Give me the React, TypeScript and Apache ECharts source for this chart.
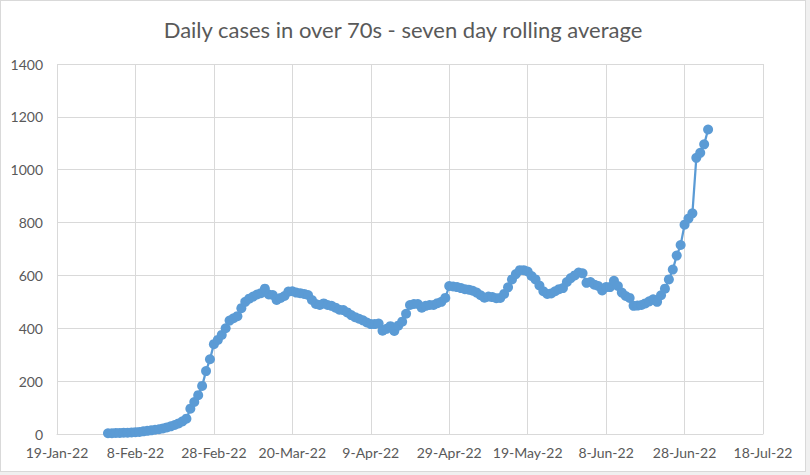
import React, { useEffect, useRef } from "react";
import * as echarts from "echarts";

const AXIS_START = "2022-01-19";
const AXIS_END = "2022-07-18";
const SERIES_START = "2022-02-01";
const TICK_DAYS = 20;
const Y_TICKS = [0, 200, 400, 600, 800, 1000, 1200, 1400];
const MONTHS = ["Jan", "Feb", "Mar", "Apr", "May", "Jun", "Jul", "Aug", "Sep", "Oct", "Nov", "Dec"];

// seven day rolling average, one value per day from 1-Feb-22
const dailyValues = [
  3, 3, 4, 4, 5, 5, 6, 7, 8, 10, 12, 14, 16, 18, 21, 25, 29, 34, 40, 48,
  58, 96, 121, 147, 182, 238, 283, 340, 356, 375, 400, 429, 438, 446, 476, 500,
  512, 520, 528, 533, 550, 528, 526, 507, 515, 522, 539, 540, 535, 533, 530, 526,
  507, 492, 488, 494, 488, 485, 478, 470, 469, 460, 450, 442, 436, 430, 422, 416,
  416, 418, 391, 398, 408, 390, 410, 425, 455, 488, 492, 492, 478, 485, 488, 488,
  495, 500, 515, 560, 558, 556, 552, 548, 546, 542, 535, 525, 516, 520, 518, 514,
  515, 530, 555, 585, 605, 620, 620, 615, 598, 585, 562, 540, 530, 532, 540, 548,
  552, 575, 590, 600, 611, 608, 572, 575, 565, 560, 543, 556, 556, 580, 560, 535,
  522, 515, 485, 486, 488, 494, 502, 510, 500, 525, 550, 585, 622, 675, 715, 792,
  815, 835, 1045, 1064, 1096, 1152,
];

const DAY = 86400000;
const toMs = (s: string) => {
  const [y, m, d] = s.split("-").map(Number);
  return Date.UTC(y, m - 1, d);
};
const axisStartMs = toMs(AXIS_START);
const axisEndDays = Math.round((toMs(AXIS_END) - axisStartMs) / DAY);
const seriesOffset = Math.round((toMs(SERIES_START) - axisStartMs) / DAY);

const fmtDate = (offset: number) => {
  const dt = new Date(axisStartMs + offset * DAY);
  const yy = String(dt.getUTCFullYear() % 100).padStart(2, "0");
  return `${dt.getUTCDate()}-${MONTHS[dt.getUTCMonth()]}-${yy}`;
};

const FONT = "Lato, 'Liberation Sans', sans-serif";

export default function App() {
  const ref = useRef<HTMLDivElement>(null);
  useEffect(() => {
    document.body.style.margin = "0";
    if (!ref.current) return;
    const chart = echarts.init(ref.current, undefined, { renderer: "svg" });
    const data = dailyValues.map((v, i) => [seriesOffset + i, v]);
    chart.setOption({
      animation: false,
      backgroundColor: "#ffffff",
      textStyle: { fontFamily: FONT },
      title: {
        text: "Daily cases in over 70s - seven day rolling average",
        left: "center",
        top: 12,
        textStyle: { fontFamily: FONT, fontSize: 22, fontWeight: "normal", color: "#595959" },
      },
      grid: { left: 56, right: 42, top: 63, bottom: 37, containLabel: false },
      xAxis: {
        type: "value",
        min: 0,
        max: axisEndDays,
        interval: TICK_DAYS,
        axisLine: { show: true, lineStyle: { color: "#D9D9D9", width: 1 } },
        axisTick: { show: false },
        splitLine: { show: true, showMinLine: true, showMaxLine: true, lineStyle: { color: "#D9D9D9", width: 1 } },
        axisLabel: {
          formatter: (v: number) => fmtDate(v),
          fontFamily: FONT,
          fontSize: 14,
          color: "#595959",
          margin: 11,
          showMinLabel: true,
          showMaxLabel: true,
        },
      },
      yAxis: {
        type: "value",
        min: Y_TICKS[0],
        max: Y_TICKS[Y_TICKS.length - 1],
        interval: Y_TICKS[1] - Y_TICKS[0],
        axisLine: { show: false },
        axisTick: { show: false },
        splitLine: { show: true, lineStyle: { color: "#D9D9D9", width: 1 } },
        axisLabel: {
          formatter: (v: number) => String(v),
          fontFamily: FONT,
          fontSize: 14,
          color: "#595959",
          margin: 14,
        },
      },
      series: [
        {
          type: "line",
          data,
          symbol: "circle",
          symbolSize: 10,
          showSymbol: true,
          lineStyle: { color: "#5B9BD5", width: 2.25 },
          itemStyle: { color: "#5B9BD5" },
        },
      ],
    });
    return () => chart.dispose();
  }, []);
  return (
    <div style={{ position: "absolute", left: 0, top: 0, width: 810, height: 475, background: "#F0F0F0" }}>
      <div
        ref={ref}
        style={{
          width: 806,
          height: 472,
          border: "1px solid #D9D9D9",
          boxSizing: "border-box",
          background: "#ffffff",
        }}
      />
    </div>
  );
}
